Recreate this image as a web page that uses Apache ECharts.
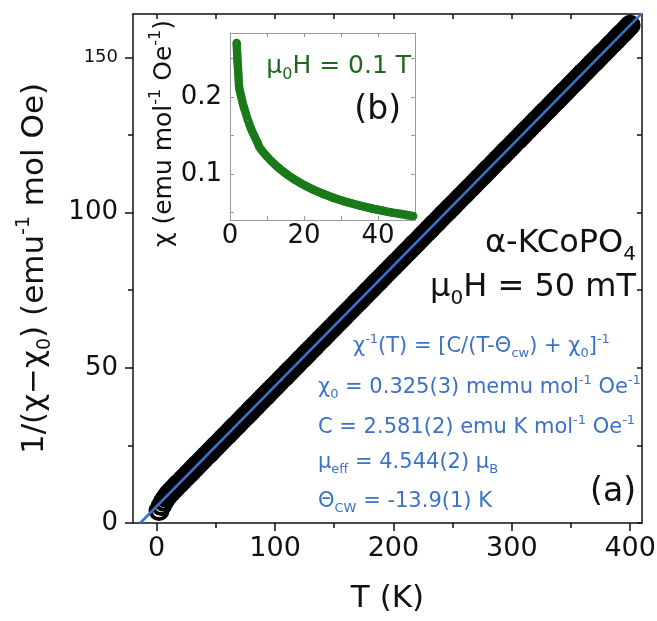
<!DOCTYPE html>
<html>
<head>
<meta charset="utf-8">
<script src="https://cdn.jsdelivr.net/npm/echarts@6/dist/echarts.min.js"></script>
<style>html,body{margin:0;padding:0;background:#fff}#c{width:657px;height:621px}</style>
</head>
<body>
<div id="c"></div>
<script>
// ---------- data ----------
// main panel (a): T (K) and 1/(chi - chi0)
const mainT = [2,4,6,8,
10,12,14,16,18,20,22,24,26,28,30,32,34,36,38,40,42,44,46,48,50,52,54,56,58,60,62,64,66,68,70,72,74,76,78,
80,82,84,86,88,90,92,94,96,98,100,102,104,106,108,110,112,114,116,118,120,122,124,126,128,130,132,134,136,138,
140,142,144,146,148,150,152,154,156,158,160,162,164,166,168,170,172,174,176,178,180,182,184,186,188,190,192,194,196,198,
200,202,204,206,208,210,212,214,216,218,220,222,224,226,228,230,232,234,236,238,240,242,244,246,248,250,252,254,256,258,
260,262,264,266,268,270,272,274,276,278,280,282,284,286,288,290,292,294,296,298,300,302,304,306,308,310,312,314,316,318,
320,322,324,326,328,330,332,334,336,338,340,342,344,346,348,350,352,354,356,358,360,362,364,366,368,370,372,374,376,378,
380,382,384,386,388,390,392,394,396,398,400];
const mainInvChi = [4.0,5.6,7.0,8.2,
9.2,10.0,10.8,11.6,12.4, 13.1,13.9,14.7,15.5,16.2, 17.0,17.8,18.6,19.3,20.1, 20.9,21.7,22.4,23.2,24.0,
24.8,25.5,26.3,27.1,27.9, 28.6,29.4,30.2,31.0,31.7, 32.5,33.3,34.1,34.8,35.6, 36.4,37.2,37.9,38.7,39.5,
40.3,41.0,41.8,42.6,43.4, 44.1,44.9,45.7,46.5,47.2, 48.0,48.8,49.6,50.3,51.1, 51.9,52.7,53.4,54.2,55.0,
55.8,56.5,57.3,58.1,58.9, 59.6,60.4,61.2,62.0,62.7, 63.5,64.3,65.1,65.8,66.6, 67.4,68.2,68.9,69.7,70.5,
71.3,72.0,72.8,73.6,74.4, 75.1,75.9,76.7,77.5,78.2, 79.0,79.8,80.6,81.3,82.1, 82.9,83.7,84.4,85.2,86.0,
86.8,87.5,88.3,89.1,89.9, 90.6,91.4,92.2,93.0,93.7, 94.5,95.3,96.1,96.8,97.6, 98.4,99.2,99.9,100.7,101.5,
102.2,103.0,103.8,104.6,105.3, 106.1,106.9,107.7,108.4,109.2, 110.0,110.8,111.5,112.3,113.1, 113.9,114.6,115.4,116.2,117.0,
117.7,118.5,119.3,120.1,120.8, 121.6,122.4,123.2,123.9,124.7, 125.5,126.3,127.0,127.8,128.6, 129.4,130.1,130.9,131.7,132.5,
133.2,134.0,134.8,135.6,136.3, 137.1,137.9,138.7,139.4,140.2, 141.0,141.8,142.5,143.3,144.1, 144.9,145.6,146.4,147.2,148.0,
148.7,149.5,150.3,151.1,151.8, 152.6,153.4,154.2,154.9,155.7, 156.5,157.3,158.0,158.8,159.6,
160.4];
// Curie-Weiss fit line end points (T, 1/(chi-chi0))
const fitT = [-13.9, 410];
const fitY = [0, 164.3];

// inset (b): T (K) and chi (emu/mol/Oe)
const insetT = [1.80,1.83,1.86,1.89,1.92,1.95,1.98,2.01,2.04,2.08,2.12,2.16,2.20,2.24,2.28,2.32,2.36,2.40,
2.50,2.60,2.75,2.90,3.05,3.20,3.40,3.60,3.80,4.00,4.25,4.50,4.75,5.00,5.25,5.50,5.75,6.00,6.30,6.60,6.90,7.20,7.50,7.75,
8.0,8.5,9.0,9.5,10.0,10.5,11.0,11.5,12.0,12.5,13.0,13.5,14.0,14.5,15.0,15.5,16.0,16.5,17.0,17.5,18.0,18.5,19.0,19.5,
20.0,20.5,21.0,21.5,22.0,22.5,23.0,23.5,24.0,24.5,25.0,25.5,26.0,26.5,27.0,27.5,28.0,28.5,29.0,29.5,
30.0,30.5,31.0,31.5,32.0,32.5,33.0,33.5,34.0,34.5,35.0,35.5,36.0,36.5,37.0,37.5,38.0,38.5,39.0,39.5,
40.0,40.5,41.0,41.5,42.0,42.5,43.0,43.5,44.0,44.5,45.0,45.5,46.0,46.5,47.0,47.5,48.0,48.5,49.0,49.5];
const insetChi = [0.270,0.267,0.264,0.261,0.258,0.255,0.252,0.249,0.246,0.243,0.240,0.237,0.234,0.231,0.228,0.224,0.220,0.216,
0.212,0.209,0.206,0.203,0.200,0.197,0.193,0.189,0.186,0.183,0.179,0.175,0.171,0.168,0.164,0.161,0.158,0.155,0.152,0.149,0.146,0.143,0.140,0.137,
0.1342,0.1311,0.1281,0.1253,0.1225,0.1199,0.1174,0.1151,0.1128,0.1106,0.1084,0.1064,0.1044,0.1025,0.1007,0.0989,0.0972,0.0956,0.0940,0.0925,0.0910,0.0896,0.0882,0.0868,
0.0855,0.0842,0.0830,0.0818,0.0806,0.0795,0.0784,0.0773,0.0763,0.0753,0.0743,0.0733,0.0724,0.0715,0.0706,0.0697,0.0688,0.0680,0.0672,0.0664,
0.0656,0.0648,0.0641,0.0634,0.0627,0.0620,0.0614,0.0607,0.0601,0.0594,0.0588,0.0582,0.0576,0.0570,0.0565,0.0559,0.0554,0.0548,0.0543,0.0538,
0.0533,0.0528,0.0523,0.0518,0.0513,0.0508,0.0504,0.0499,0.0495,0.0491,0.0487,0.0483,0.0479,0.0475,0.0471,0.0467,0.0463,0.0459,0.0455,0.0452];

// tick values / labels
const xMajorTicks = [0, 100, 200, 300, 400];
const xMinorTicks = [50, 150, 250, 350];
const xTopTicks = [0, 50, 100, 150, 200, 250, 300, 350, 400];
const yMajorTicks = [0, 50, 100, 150];
const yMinorTicks = [25, 75, 125];
const yRightTicks = [0, 25, 50, 75, 100, 125, 150];
const insetXTicks = [0, 10, 20, 30, 40, 50];
const insetXLabels = [0, 20, 40];
const insetYTicks = [0.05, 0.10, 0.15, 0.20, 0.25];
const insetYLabels = [0.1, 0.2];

// ---------- styling ----------
const FF = "'DejaVu Sans', sans-serif";
const BLACK = '#111';
const BLUE = '#3a72c8';
const GREEN = '#1a7a1a';
const GREEN_TXT = '#1d6a1d';

function rich(F, color) {
  return {
    n:   {fontSize: F, lineHeight: Math.round(F*1.3), verticalAlign: 'middle', color: color, fill: color, fontFamily: FF},
    sub: {fontSize: Math.round(F*0.62), lineHeight: Math.round(F*0.62), verticalAlign: 'bottom', color: color, fill: color, fontFamily: FF},
    sup: {fontSize: Math.round(F*0.62), lineHeight: Math.round(F*0.8), verticalAlign: 'top', color: color, fill: color, fontFamily: FF},
    s:   {fontSize: 18, color: color, fill: color, fontFamily: FF}
  };
}
function txt(text, x, y, F, color, align) {
  return {
    type: 'text', x: x, y: y, z: 100, silent: true,
    style: {text: text, fontSize: F, fontFamily: FF, fill: color, align: align, verticalAlign: 'middle', rich: rich(F, color)}
  };
}

const chart = echarts.init(document.getElementById('c'), null, {renderer: 'canvas'});
const zip = (a, b) => a.map((v, i) => [v, b[i]]);

const axisLineMain = {show: true, onZero: false, lineStyle: {color: BLACK, width: 1.5}};
const axisLineInset = {show: true, onZero: false, lineStyle: {color: '#999', width: 1}};
const tickMain = (len, inside, vals) => ({show: true, inside: inside, length: len, customValues: vals, lineStyle: {color: BLACK, width: 1.5}});
const tickInset = (vals) => ({show: true, inside: true, length: 4, customValues: vals, lineStyle: {color: '#999', width: 1}});

chart.setOption({
  animation: false,
  textStyle: {fontFamily: FF},
  grid: [
    {left: 133, top: 14, right: 15, bottom: 98, containLabel: false, outerBoundsMode: 'none'},
    {left: 230, top: 33, width: 185, height: 187, containLabel: false, outerBoundsMode: 'none',
     show: true, backgroundColor: '#fff', borderWidth: 0}
  ],
  xAxis: [
    {gridIndex: 0, type: 'value', position: 'bottom', min: -20, max: 410,
     axisLine: axisLineMain, axisTick: tickMain(8, false, xMajorTicks),
     axisLabel: {show: true, customValues: xMajorTicks, margin: 12, fontSize: 27, color: BLACK, fontFamily: FF},
     splitLine: {show: false},
     name: 'T (K)', nameLocation: 'middle', nameGap: 60,
     nameTextStyle: {fontSize: 31, color: BLACK, fontFamily: FF}},
    {gridIndex: 0, type: 'value', position: 'bottom', min: -20, max: 410,
     axisLine: {show: false, onZero: false}, axisTick: tickMain(5, false, xMinorTicks),
     axisLabel: {show: false, customValues: xMinorTicks}, splitLine: {show: false}},
    {gridIndex: 0, type: 'value', position: 'top', min: -20, max: 410,
     axisLine: axisLineMain, axisTick: tickMain(5, true, xTopTicks),
     axisLabel: {show: false, customValues: xTopTicks}, splitLine: {show: false}},
    {gridIndex: 1, type: 'value', position: 'bottom', min: 0, max: 50,
     axisLine: axisLineInset, axisTick: tickInset(insetXTicks),
     axisLabel: {show: true, customValues: insetXLabels, margin: 3, fontSize: 26, color: BLACK, fontFamily: FF},
     splitLine: {show: false}},
    {gridIndex: 1, type: 'value', position: 'top', min: 0, max: 50,
     axisLine: axisLineInset, axisTick: tickInset(insetXTicks),
     axisLabel: {show: false, customValues: insetXTicks}, splitLine: {show: false}}
  ],
  yAxis: [
    {gridIndex: 0, type: 'value', position: 'left', min: 0, max: 164,
     axisLine: axisLineMain, axisTick: tickMain(8, false, yMajorTicks),
     axisLabel: {show: true, customValues: yMajorTicks, margin: 15, fontSize: 26, color: BLACK, fontFamily: FF,
       formatter: v => (v === 150 ? '{s|150}' : String(v)), rich: {s: {fontSize: 18, color: BLACK, fontFamily: FF}}},
     splitLine: {show: false},
     name: '{n|1/(χ−χ}{sub|0}{n|) (emu}{sup|-1}{n| mol Oe)}',
     nameLocation: 'middle', nameRotate: 90, nameGap: 78,
     nameTextStyle: {fontSize: 31, color: BLACK, fontFamily: FF, rich: rich(31, BLACK)}},
    {gridIndex: 0, type: 'value', position: 'left', min: 0, max: 164,
     axisLine: {show: false, onZero: false}, axisTick: tickMain(5, false, yMinorTicks),
     axisLabel: {show: false, customValues: yMinorTicks}, splitLine: {show: false}},
    {gridIndex: 0, type: 'value', position: 'right', min: 0, max: 164,
     axisLine: axisLineMain, axisTick: tickMain(5, true, yRightTicks),
     axisLabel: {show: false, customValues: yRightTicks}, splitLine: {show: false}},
    {gridIndex: 1, type: 'value', position: 'left', min: 0.04, max: 0.283,
     axisLine: axisLineInset, axisTick: tickInset(insetYTicks),
     axisLabel: {show: true, customValues: insetYLabels, margin: 8, fontSize: 26, color: BLACK, fontFamily: FF,
       formatter: v => v.toFixed(1)},
     splitLine: {show: false},
     name: '{n|χ (emu mol}{sup|-1}{n| Oe}{sup|-1}{n|)}',
     nameLocation: 'middle', nameRotate: 90, nameGap: 48,
     nameTextStyle: {fontSize: 25, color: BLACK, fontFamily: FF, padding: [0, 14, 0, 0], rich: rich(25, BLACK)}},
    {gridIndex: 1, type: 'value', position: 'right', min: 0.04, max: 0.283,
     axisLine: axisLineInset, axisTick: tickInset(insetYTicks),
     axisLabel: {show: false, customValues: insetYTicks}, splitLine: {show: false}}
  ],
  series: [
    {type: 'scatter', xAxisIndex: 0, yAxisIndex: 0, data: zip(mainT, mainInvChi),
     symbol: 'circle', symbolSize: 17, silent: true, z: 2,
     itemStyle: {color: 'rgba(0,0,0,0)', borderColor: '#000', borderWidth: 4, opacity: 1},
     emphasis: {disabled: true}},
    {type: 'line', xAxisIndex: 0, yAxisIndex: 0, data: zip(fitT, fitY),
     symbol: 'none', silent: true, z: 3, clip: true,
     lineStyle: {color: BLUE, width: 2.5}},
    {type: 'scatter', xAxisIndex: 3, yAxisIndex: 3, data: zip(insetT, insetChi),
     symbol: 'circle', symbolSize: 6, silent: true, z: 4,
     itemStyle: {color: 'rgba(0,0,0,0)', borderColor: GREEN, borderWidth: 2.6, opacity: 1},
     emphasis: {disabled: true}}
  ],
  graphic: [
    txt('{n|α-KCoPO}{sub|4}', 636, 244, 32, BLACK, 'right'),
    txt('{n|μ}{sub|0}{n|H = 50 mT}', 636, 288, 32, BLACK, 'right'),
    txt('{n|(a)}', 636, 492, 33, BLACK, 'right'),
    txt('{n|(b)}', 401, 110, 33, BLACK, 'right'),
    txt('{n|μ}{sub|0}{n|H = 0.1 T}', 411, 66, 25, GREEN_TXT, 'right'),
    txt('{n|χ}{sup|-1}{n|(T) = [C/(T-Θ}{sub|cw}{n|) + χ}{sub|0}{n|]}{sup|-1}', 353, 347, 21, BLUE, 'left'),
    txt('{n|χ}{sub|0}{n| = 0.325(3) memu mol}{sup|-1}{n| Oe}{sup|-1}', 318, 388, 21, BLUE, 'left'),
    txt('{n|C = 2.581(2) emu K mol}{sup|-1}{n| Oe}{sup|-1}', 318, 428, 21, BLUE, 'left'),
    txt('{n|μ}{sub|eff}{n| = 4.544(2) μ}{sub|B}', 318, 463, 21, BLUE, 'left'),
    txt('{n|Θ}{sub|CW}{n| = -13.9(1) K}', 318, 502, 21, BLUE, 'left')
  ]
});
</script>
</body>
</html>
